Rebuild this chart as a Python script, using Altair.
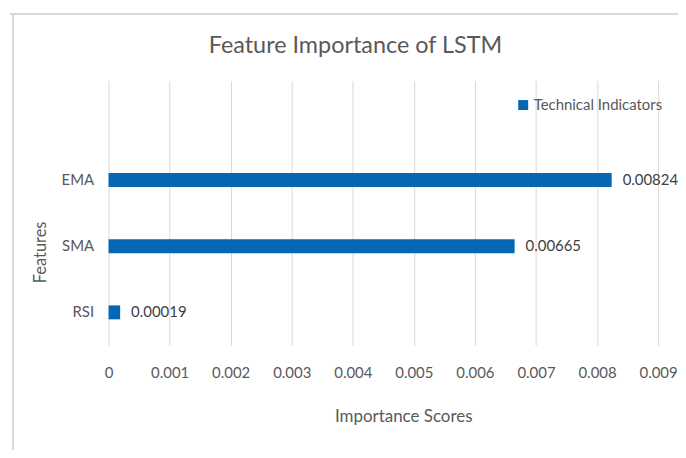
import altair as alt
import pandas as pd

features = ["EMA", "SMA", "RSI"]
scores = [0.00824, 0.00665, 0.00019]
series = ["Technical Indicators"] * 3
y_domain = [" ", "EMA", "SMA", "RSI"]
x_ticks = [0, 0.001, 0.002, 0.003, 0.004, 0.005, 0.006, 0.007, 0.008, 0.009]
chart_title = "Feature Importance of LSTM"

df = pd.DataFrame({"Feature": features, "Score": scores, "Series": series})

FONT = "Lato"
GRAY = "#595959"
BLUE = "#0567B4"

y_enc = alt.Y(
    "Feature:N",
    scale=alt.Scale(domain=y_domain, paddingInner=0, paddingOuter=0),
    axis=alt.Axis(
        title="Features",
        domain=False,
        ticks=False,
        labelPadding=15,
        labelFont=FONT,
        labelFontSize=15,
        labelColor=GRAY,
        titleFont=FONT,
        titleFontSize=16.5,
        titleFontWeight="normal",
        titleColor=GRAY,
        titleX=-68,
        titleY=172,
        titleAngle=-90,
        titleBaseline="middle",
        titleAlign="center",
    ),
)

x_enc = alt.X(
    "Score:Q",
    scale=alt.Scale(domain=[0, 0.009], nice=False, zero=True),
    axis=alt.Axis(
        title="Importance Scores",
        values=x_ticks,
        labelExpr="datum.value == 0 ? '0' : format(datum.value, '.3f')",
        domain=False,
        ticks=False,
        grid=True,
        gridColor="#D9D9D9",
        gridWidth=1,
        labelPadding=20,
        labelFont=FONT,
        labelFontSize=15,
        labelColor=GRAY,
        labelFlush=False,
        titleFont=FONT,
        titleFontSize=17,
        titleFontWeight="normal",
        titleColor=GRAY,
        titleX=296,
        titleY=71,
        titleBaseline="middle",
        titleAlign="center",
    ),
)

bars = alt.Chart(df).mark_bar(size=14).encode(
    x=x_enc,
    y=y_enc,
    color=alt.Color(
        "Series:N",
        scale=alt.Scale(range=[BLUE]),
        legend=alt.Legend(
            title=None,
            orient="none",
            legendX=409,
            legendY=17,
            padding=0,
            symbolType="square",
            symbolSize=100,
            symbolStrokeWidth=0,
            labelFont=FONT,
            labelFontSize=15,
            labelColor=GRAY,
            labelOffset=3,
        ),
    ),
)

labels = alt.Chart(df).mark_text(
    align="left", baseline="middle", dx=11, font=FONT, fontSize=15, color="#404040"
).encode(
    x="Score:Q",
    y=alt.Y("Feature:N", scale=alt.Scale(domain=y_domain, paddingInner=0, paddingOuter=0)),
    text=alt.Text("Score:Q", format=".5f"),
)

title_mark = alt.Chart(pd.DataFrame({"t": [chart_title]})).mark_text(
    align="center", baseline="alphabetic", font=FONT, fontSize=23.5, color=GRAY
).encode(x=alt.value(248), y=alt.value(-28), text="t:N")

border_top = alt.Chart(df).mark_rule(color="#D9D9D9", strokeWidth=1.5).encode(
    x=alt.value(-99), x2=alt.value(590), y=alt.value(-67)
)
border_left = alt.Chart(df).mark_rule(color="#D9D9D9", strokeWidth=1.5).encode(
    x=alt.value(-96), y=alt.value(-67), y2=alt.value(400)
)

chart = alt.layer(border_top, border_left, title_mark, bars, labels).properties(
    width=552,
    height=266,
    autosize=alt.AutoSizeParams(type="none"),
    padding={"left": 101, "top": 72, "right": 20, "bottom": 104},
).configure_view(stroke=None)

chart.save("out.html", embed_options={"renderer": "svg", "actions": False})
